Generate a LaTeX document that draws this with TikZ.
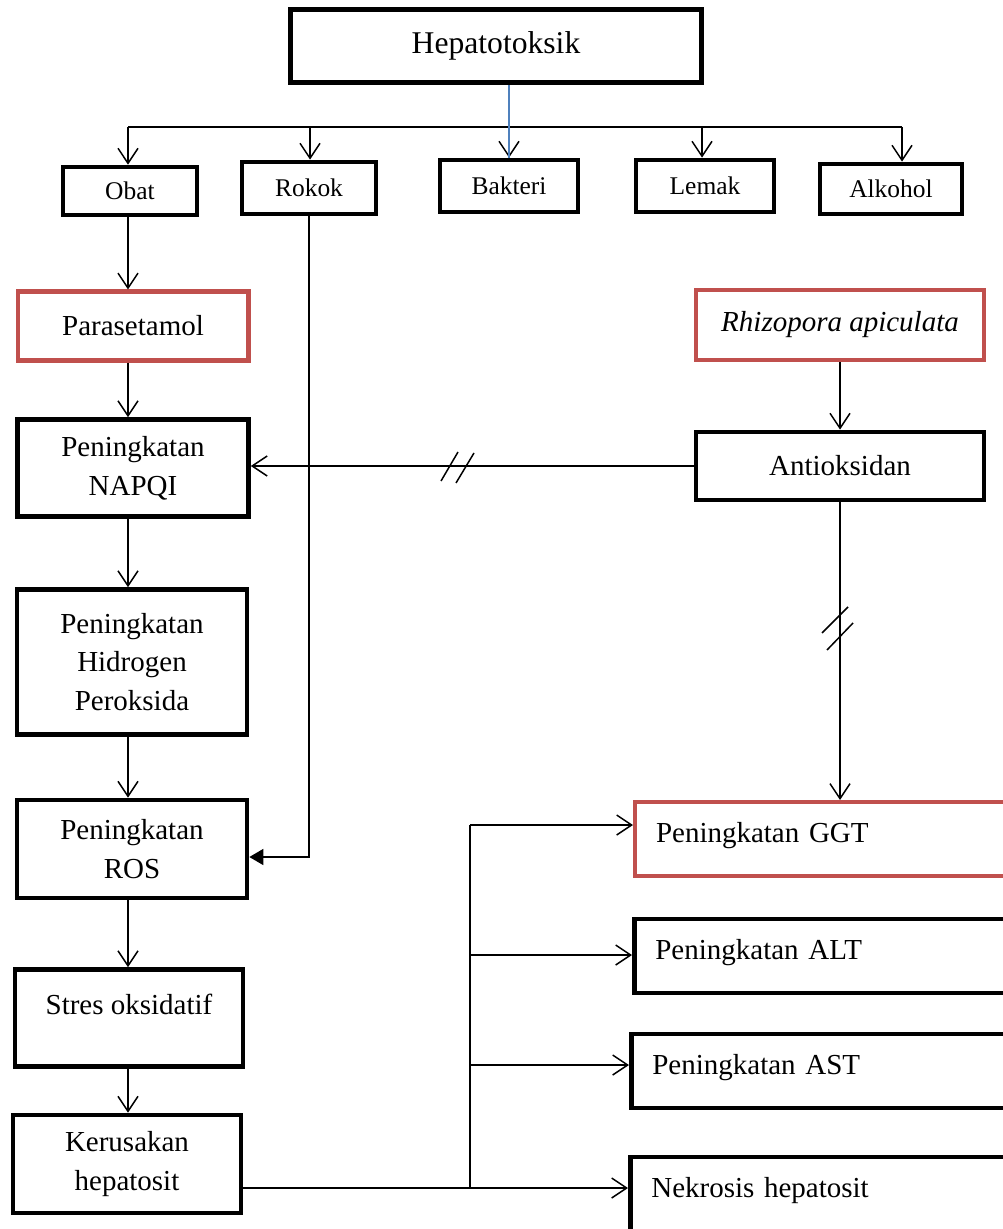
\documentclass[tikz,border=0pt]{standalone}
\usepackage{fontspec}
\setmainfont{Liberation Serif}
\usetikzlibrary{arrows.meta,calc}

\definecolor{boxred}{RGB}{192,80,77}
\definecolor{lineblue}{RGB}{79,129,189}

\begin{document}
\begin{tikzpicture}[x=0.02cm,y=-0.02cm,
  box/.style={draw,line width=2.7pt,align=center,inner sep=0pt,font=\fontsize{16.5}{22}\selectfont},
  redbox/.style={box,draw=boxred,line width=2.3pt},
  small/.style={box,font=\fontsize{14.5}{17}\selectfont},
  rbox/.style={box,align=left,text width=7cm,inner xsep=0.42cm,inner ysep=0pt,text height=0.8cm,text depth=0.68cm,anchor=base west},
  conn/.style={line width=0.85pt},
  arr/.style={conn,-{Straight Barb[length=0.3cm,width=0.4cm]}},
  arrfill/.style={conn,-{Triangle[length=0.28cm,width=0.32cm]}}]
\useasboundingbox (0,0) rectangle (1002,1229);

% top
\node[box,line width=3.1pt,minimum width=8.22cm,minimum height=1.46cm,font=\fontsize{18}{22}\selectfont] (hep) at (496,46) {Hepatotoksik};

\node[small,minimum width=2.68cm,minimum height=0.96cm] (obat) at (130,191) {Obat};
\node[small,minimum width=2.68cm,minimum height=1.04cm] (rokok) at (309,188) {Rokok};
\node[small,minimum width=2.76cm,minimum height=1.04cm] (bakteri) at (509,186) {Bakteri};
\node[small,minimum width=2.76cm,minimum height=1.04cm] (lemak) at (705,186) {Lemak};
\node[small,minimum width=2.84cm,minimum height=1.0cm] (alkohol) at (891,189) {Alkohol};

\coordinate (t1) at (128,127);
\coordinate (t2) at (310,127);
\coordinate (t3) at (509,127);
\coordinate (t4) at (702,127);
\coordinate (t5) at (902,127);
\draw[conn] (t1) -- (t5);
\foreach \t/\b in {t1/obat,t2/rokok,t3/bakteri,t4/lemak,t5/alkohol}
  \draw[arr] (\t) -- (\t |- \b.north);
\draw[lineblue,line width=0.85pt] (hep.south -| t3) -- (t3 |- bakteri.north);

% left column
\node[redbox,minimum width=4.62cm,minimum height=1.38cm] (para) at (133,326) {Parasetamol};
\node[box,minimum width=4.62cm,minimum height=1.94cm] (napqi) at (133,468) {Peningkatan\\NAPQI};
\node[box,minimum width=4.6cm,minimum height=2.9cm] (hidro) at (132,662) {Peningkatan\\Hidrogen\\Peroksida};
\node[box,minimum width=4.6cm,minimum height=1.96cm] (ros) at (132,849) {Peningkatan\\ROS};
\node[box,minimum width=4.56cm,minimum height=1.94cm,text depth=0.55cm] (stres) at (129,1018) {Stres oksidatif};
\node[box,minimum width=4.56cm,minimum height=1.96cm] (kerus) at (127,1164) {Kerusakan\\hepatosit};

\foreach \a/\b in {obat/para,para/napqi,napqi/hidro,hidro/ros,ros/stres,stres/kerus}
  \draw[arr] (t1 |- \a.south) -- (t1 |- \b.north);

\coordinate (rosin) at ($(ros.east)+(0,8)$);
\draw[arrfill] (rokok.south) |- (rosin);

% right column
\node[redbox,minimum width=5.76cm,minimum height=1.4cm,font=\fontsize{16.5}{22}\selectfont\itshape] (rhizo) at (840,325) {Rhizopora apiculata};
\node[box,minimum width=5.76cm,minimum height=1.36cm] (antiok) at (840,466) {Antioksidan};

\node[rbox,draw=boxred,line width=2.3pt] (ggt) at (633,842) {Peningkatan GGT};
\node[rbox] (alt) at (632,959) {Peningkatan ALT};
\node[rbox] (ast) at (629,1074) {Peningkatan AST};
\node[rbox] (nekro) at (628,1197) {Nekrosis hepatosit};

\draw[arr] (rhizo.south) -- (antiok.north);
\draw[arr] (antiok.west) -- (antiok.west -| napqi.east);
\draw[arr] (antiok.south) -- (antiok.south |- ggt.north);

% cut marks
\coordinate (cut1) at (457,467);
\draw[conn] (cut1) ++(-16,14) -- ++(17,-29);
\draw[conn] (cut1) ++(-1,16) -- ++(18,-30);
\coordinate (cut2) at (840,628);
\draw[conn] (cut2) ++(-18,5) -- ++(26,-26);
\draw[conn] (cut2) ++(-13,22) -- ++(26,-27);

% bracket
\coordinate (b1) at (470,825);
\coordinate (b2) at (470,955);
\coordinate (b3) at (470,1065);
\coordinate (b4) at (470,1188);
\draw[conn] (kerus.east |- b4) -- (b4);
\draw[conn] (b1) -- (b4);
\foreach \b/\n in {b1/ggt,b2/alt,b3/ast,b4/nekro}
  \draw[arr] (\b) -- (\b -| \n.west);

\end{tikzpicture}
\end{document}
